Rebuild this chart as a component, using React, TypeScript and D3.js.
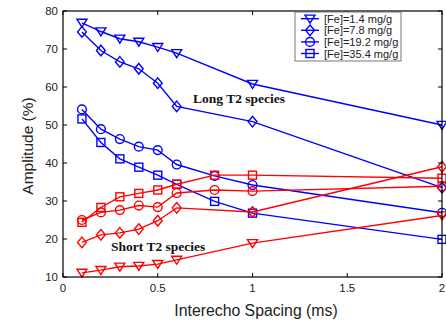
import React from "react";
import * as d3 from "d3";

const xTicks = [0, 0.5, 1, 1.5, 2];
const yTicks = [10, 20, 30, 40, 50, 60, 70, 80];

const xA = [0.1, 0.2, 0.3, 0.4, 0.5, 0.6, 1, 2];
const xB = [0.1, 0.2, 0.3, 0.4, 0.5, 0.6, 0.8, 1, 2];

const legendLabels = ["[Fe]=1.4 mg/g", "[Fe]=7.8 mg/g", "[Fe]=19.2 mg/g", "[Fe]=35.4 mg/g"];
const markers = ["tri", "dia", "circ", "sq"];

const longTri = [76.9, 74.6, 72.7, 71.9, 70.5, 68.9, 60.8, 50];
const longDia = [74.5, 69.6, 66.6, 64.8, 61, 54.9, 50.9, 33.5];
const longCirc = [54.1, 48.9, 46.3, 44.3, 43.4, 39.6, 36.6, 34.2, 26.9];
const longSq = [51.6, 45.4, 41.1, 38.9, 36.8, 34.4, 29.9, 26.8, 19.9];

const shortTri = [11.1, 11.8, 12.7, 12.9, 13.4, 14.5, 18.9, 26.2];
const shortDia = [19.1, 21.1, 21.6, 22.6, 24.8, 28.2, 27.1, 39];
const shortCirc = [25, 27, 27.6, 28.8, 28.4, 32.1, 32.9, 32.6, 33.9];
const shortSq = [24.4, 28.3, 31.1, 32, 32.9, 34.4, 36.8, 36.8, 36];

const BLUE = "#0000ff";
const RED = "#ff0000";

const series = [
  { xs: xA, ys: longTri, m: "tri", c: BLUE },
  { xs: xA, ys: longDia, m: "dia", c: BLUE },
  { xs: xB, ys: longCirc, m: "circ", c: BLUE },
  { xs: xB, ys: longSq, m: "sq", c: BLUE },
  { xs: xA, ys: shortTri, m: "tri", c: RED },
  { xs: xA, ys: shortDia, m: "dia", c: RED },
  { xs: xB, ys: shortCirc, m: "circ", c: RED },
  { xs: xB, ys: shortSq, m: "sq", c: RED },
];

function Marker({ type, x, y, color }: { type: string; x: number; y: number; color: string }) {
  const common = { fill: "none", stroke: color, strokeWidth: 1.4 };
  if (type === "circ") return <circle cx={x} cy={y} r={4.4} {...common} />;
  if (type === "sq") return <rect x={x - 4} y={y - 4} width={8} height={8} {...common} />;
  if (type === "dia")
    return <path d={`M${x},${y - 5.3}L${x + 4.4},${y}L${x},${y + 5.3}L${x - 4.4},${y}Z`} {...common} />;
  return <path d={`M${x - 5},${y - 3.6}L${x + 5},${y - 3.6}L${x},${y + 4.4}Z`} {...common} />;
}

export default function App() {
  const W = 446, H = 322;
  const left = 63, right = 442, top = 11, bottom = 277;
  const x = d3.scaleLinear().domain([0, 2]).range([left, right]);
  const y = d3.scaleLinear().domain([10, 80]).range([bottom, top]);
  const line = d3.line<[number, number]>().x(d => x(d[0])).y(d => y(d[1]));
  const font = "Liberation Sans, Arial, Helvetica, sans-serif";
  const serif = "Liberation Serif, Times New Roman, serif";
  const tl = 4;
  return (
    <svg width={W} height={H} style={{ position: "absolute", left: 0, top: 0, background: "#fff" }}>
      <rect x={0} y={0} width={W} height={H} fill="#fff" />
      {series.map((s, i) => {
        const pts = s.xs.map((xv, j) => [xv, s.ys[j]] as [number, number]);
        return (
          <g key={i}>
            <path d={line(pts) || ""} fill="none" stroke={s.c} strokeWidth={1.4} />
            {pts.map((p, j) => (
              <Marker key={j} type={s.m} x={x(p[0])} y={y(p[1])} color={s.c} />
            ))}
          </g>
        );
      })}
      <rect x={left} y={top} width={right - left} height={bottom - top} fill="none" stroke="#000" strokeWidth={1.2} />
      {xTicks.map((t, i) => (
        <g key={"x" + i}>
          <line x1={x(t)} x2={x(t)} y1={bottom} y2={bottom - tl} stroke="#000" />
          <line x1={x(t)} x2={x(t)} y1={top} y2={top + tl} stroke="#000" />
          <text x={x(t)} y={292} fontFamily={font} fontSize={11.5} textAnchor="middle" fill="#222">{t}</text>
        </g>
      ))}
      {yTicks.map((t, i) => (
        <g key={"y" + i}>
          <line x1={left} x2={left + tl} y1={y(t)} y2={y(t)} stroke="#000" />
          <line x1={right} x2={right - tl} y1={y(t)} y2={y(t)} stroke="#000" />
          <text x={58} y={y(t) + 4} fontFamily={font} fontSize={11.5} textAnchor="end" fill="#222">{t}</text>
        </g>
      ))}
      <text x={256} y={316} fontFamily={font} fontSize={15.8} textAnchor="middle" fill="#222">Interecho Spacing (ms)</text>
      <text transform="translate(33,146) rotate(-90)" fontFamily={font} fontSize={15.5} textAnchor="middle" fill="#222">Amplitude (%)</text>
      <text x={193} y={103} fontFamily={serif} fontWeight="bold" fontSize={13.5} fill="#111">Long T2 species</text>
      <text x={111} y={251} fontFamily={serif} fontWeight="bold" fontSize={13.5} fill="#111">Short T2 species</text>
      <g>
        <rect x={295} y={12} width={106} height={49} fill="#fff" stroke="#555" strokeWidth={0.8} />
        {legendLabels.map((lab, i) => {
          const ly = 18.7 + i * 11.6;
          return (
            <g key={i}>
              <line x1={301} x2={319} y1={ly} y2={ly} stroke={BLUE} strokeWidth={1.4} />
              <Marker type={markers[i]} x={310} y={ly} color={BLUE} />
              <text x={324} y={ly + 4} fontFamily={font} fontSize={11} fill="#222">{lab}</text>
            </g>
          );
        })}
      </g>
    </svg>
  );
}
